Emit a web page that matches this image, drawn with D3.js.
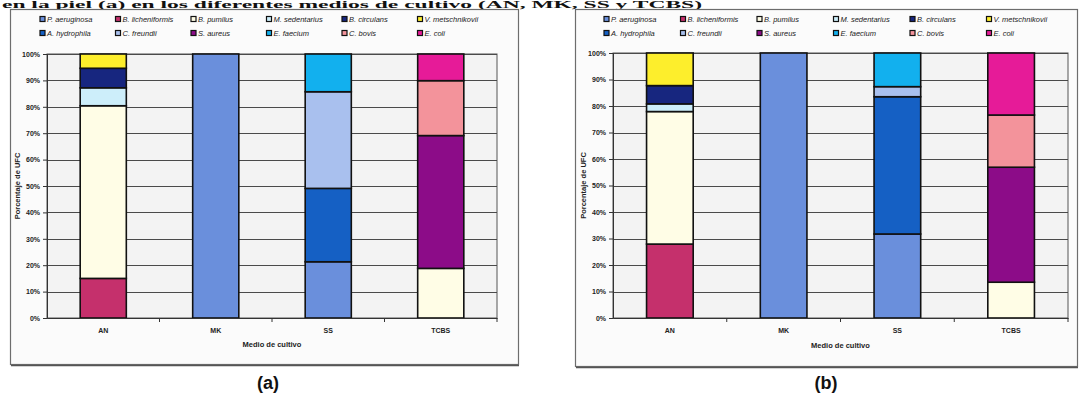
<!DOCTYPE html>
<html>
<head>
<meta charset="utf-8">
<script src="https://cdn.jsdelivr.net/npm/d3@7"></script>
<style>
  html, body { margin: 0; padding: 0; background: #ffffff; }
  svg { display: block; }
  .tick text { font-family: "Liberation Sans", Arial, sans-serif; font-weight: bold; }
</style>
</head>
<body>
<svg id="fig" width="1086" height="396"></svg>
<script>
// Culture media (categories)
const media = ["AN", "MK", "SS", "TCBS"];

// Species, in series (stacking) order
const species = [
  "P. aeruginosa", "B. licheniformis", "B. pumilus", "M. sedentarius",
  "B. circulans", "V. metschnikovii", "A. hydrophila", "C. freundii",
  "S. aureus", "E. faecium", "C. bovis", "E. coli"
];

// Fill colour for each species
const speciesColors = [
  "#6a8fdc", "#c5306c", "#fffde6", "#cdeefa",
  "#17267f", "#fdee2c", "#1560c4", "#a9c0ee",
  "#8c0c88", "#12b0ee", "#f3939b", "#e61b98"
];

// Percentage of CFU per medium (AN, MK, SS, TCBS) — panel (a)
const pAeruginosaA    = [0, 100, 21.3, 0];
const bLicheniformisA = [15.0, 0, 0, 0];
const bPumilusA       = [65.4, 0, 0, 18.8];
const mSedentariusA   = [6.8, 0, 0, 0];
const bCirculansA     = [7.4, 0, 0, 0];
const vMetschnikoviiA = [5.4, 0, 0, 0];
const aHydrophilaA    = [0, 0, 27.8, 0];
const cFreundiiA      = [0, 0, 36.6, 0];
const sAureusA        = [0, 0, 0, 50.3];
const eFaeciumA       = [0, 0, 14.3, 0];
const cBovisA         = [0, 0, 0, 20.8];
const eColiA          = [0, 0, 0, 10.1];

// Percentage of CFU per medium (AN, MK, SS, TCBS) — panel (b)
const pAeruginosaB    = [0, 100, 31.7, 0];
const bLicheniformisB = [27.9, 0, 0, 0];
const bPumilusB       = [50.0, 0, 0, 13.5];
const mSedentariusB   = [2.9, 0, 0, 0];
const bCirculansB     = [6.9, 0, 0, 0];
const vMetschnikoviiB = [12.3, 0, 0, 0];
const aHydrophilaB    = [0, 0, 51.8, 0];
const cFreundiiB      = [0, 0, 3.8, 0];
const sAureusB        = [0, 0, 0, 43.4];
const eFaeciumB       = [0, 0, 12.7, 0];
const cBovisB         = [0, 0, 0, 19.7];
const eColiB          = [0, 0, 0, 23.4];

const seriesA = [pAeruginosaA, bLicheniformisA, bPumilusA, mSedentariusA, bCirculansA,
  vMetschnikoviiA, aHydrophilaA, cFreundiiA, sAureusA, eFaeciumA, cBovisA, eColiA];
const seriesB = [pAeruginosaB, bLicheniformisB, bPumilusB, mSedentariusB, bCirculansB,
  vMetschnikoviiB, aHydrophilaB, cFreundiiB, sAureusB, eFaeciumB, cBovisB, eColiB];

// Y-axis ticks
const yTicks = [0, 0.1, 0.2, 0.3, 0.4, 0.5, 0.6, 0.7, 0.8, 0.9, 1.0];

const yTitle = "Porcentaje de UFC";
const xTitle = "Medio de cultivo";
const heading = "en la piel (a) en los diferentes medios de cultivo (AN, MK, SS y TCBS)";

const svg = d3.select("#fig");
const color = d3.scaleOrdinal().domain(species).range(speciesColors);

// Heading line across the top strip
svg.append("text")
  .attr("x", 2).attr("y", 8)
  .attr("font-family", "Liberation Serif, serif")
  .attr("font-weight", "bold")
  .attr("font-size", 10)
  .attr("textLength", 700)
  .attr("lengthAdjust", "spacingAndGlyphs")
  .attr("fill", "#111")
  .text(heading);

function drawPanel(cfg, series, caption) {
  const g = svg.append("g");

  // Chart frame
  g.append("rect")
    .attr("x", cfg.frame[0] + 0.5).attr("y", cfg.frame[1] + 0.5)
    .attr("width", cfg.frame[2]).attr("height", cfg.frame[3])
    .attr("fill", "#fbfbfb").attr("stroke", "#6d6d6d").attr("stroke-width", 1.2);
  g.append("line")
    .attr("x1", cfg.frame[0] + 1).attr("x2", cfg.frame[0] + cfg.frame[2] + 1)
    .attr("y1", cfg.frame[1] + cfg.frame[3] + 1.5).attr("y2", cfg.frame[1] + cfg.frame[3] + 1.5)
    .attr("stroke", "#555").attr("stroke-width", 1.5);

  const x = d3.scaleBand().domain(media)
    .range([cfg.left, cfg.right])
    .paddingInner(0.59).paddingOuter(0.295);
  const xb = d3.scaleBand().domain(media).range([cfg.left, cfg.right]);
  const y = d3.scaleLinear().domain([0, 1]).range([cfg.bottom, cfg.top]);

  // Plot area
  g.append("rect")
    .attr("x", cfg.left).attr("y", cfg.top)
    .attr("width", cfg.right - cfg.left).attr("height", cfg.bottom - cfg.top)
    .attr("fill", "#f3f3f3").attr("stroke", "#555").attr("stroke-width", 1);

  // Horizontal gridlines
  g.append("g").selectAll("line").data(yTicks.slice(1))
    .join("line")
    .attr("x1", cfg.left).attr("x2", cfg.right)
    .attr("y1", d => Math.round(y(d)) + 0.5).attr("y2", d => Math.round(y(d)) + 0.5)
    .attr("stroke", "#4a4a4a").attr("stroke-width", 1);

  // Stacked 100% columns
  const rows = media.map((m, i) => {
    const r = { medium: m };
    species.forEach((s, k) => { r[s] = series[k][i]; });
    return r;
  });
  const stacked = d3.stack().keys(species).offset(d3.stackOffsetExpand)(rows);

  g.append("g").selectAll("g").data(stacked).join("g")
    .attr("fill", d => color(d.key))
    .selectAll("rect")
    .data(d => d.filter(p => p[1] - p[0] > 0))
    .join("rect")
    .attr("x", p => x(p.data.medium))
    .attr("width", x.bandwidth())
    .attr("y", p => y(p[1]))
    .attr("height", p => y(p[0]) - y(p[1]))
    .attr("stroke", "#111").attr("stroke-width", 1.6);

  // Y axis
  const yAxis = g.append("g")
    .attr("transform", `translate(${cfg.left},0)`)
    .call(d3.axisLeft(y).tickValues(yTicks).tickFormat(d3.format(".0%")).tickSize(4).tickPadding(3));
  yAxis.selectAll("text").attr("font-size", 7).attr("fill", "#222");
  yAxis.selectAll("line, path").attr("stroke", "#333");

  // X axis: labels at category centres, ticks at category boundaries
  const xAxis = g.append("g")
    .attr("transform", `translate(0,${cfg.bottom})`)
    .call(d3.axisBottom(xb).tickSize(0).tickPadding(10));
  xAxis.selectAll("text").attr("font-size", 7).attr("fill", "#222");
  xAxis.select("path").attr("stroke", "#333");
  xAxis.selectAll(".bound").data(media.slice(1).concat(["end"]))
    .join("line").attr("class", "bound")
    .attr("x1", (d, i) => cfg.left + xb.step() * (i + 1))
    .attr("x2", (d, i) => cfg.left + xb.step() * (i + 1))
    .attr("y1", 0).attr("y2", 4)
    .attr("stroke", "#333");

  // Axis titles
  g.append("text")
    .attr("transform", `translate(${cfg.yTitleX},${(cfg.top + cfg.bottom) / 2}) rotate(-90)`)
    .attr("text-anchor", "middle")
    .attr("font-family", "Liberation Sans, Arial, sans-serif")
    .attr("font-weight", "bold").attr("font-size", 7.5).attr("fill", "#222")
    .text(yTitle);
  g.append("text")
    .attr("x", (cfg.left + cfg.right) / 2).attr("y", cfg.xTitleY)
    .attr("text-anchor", "middle")
    .attr("font-family", "Liberation Sans, Arial, sans-serif")
    .attr("font-weight", "bold").attr("font-size", 7.5).attr("fill", "#222")
    .text(xTitle);

  // Legend: two rows of six
  const leg = g.append("g").selectAll("g").data(species).join("g")
    .attr("transform", (d, i) =>
      `translate(${cfg.frame[0] + cfg.legX + (i % 6) * cfg.legStep},${cfg.legY + Math.floor(i / 6) * 14})`);
  leg.append("rect")
    .attr("x", 0).attr("y", -4.5).attr("width", 5).attr("height", 5)
    .attr("fill", d => color(d)).attr("stroke", "#111").attr("stroke-width", 1.2);
  leg.append("text")
    .attr("x", 7).attr("y", 0.5)
    .attr("font-family", "Liberation Sans, Arial, sans-serif")
    .attr("font-style", "italic").attr("font-size", 7.5).attr("fill", "#222")
    .text(d => d);

  // Panel caption
  svg.append("text")
    .attr("x", cfg.captionX).attr("y", 389)
    .attr("text-anchor", "middle")
    .attr("font-family", "Liberation Sans Narrow, Liberation Sans, Arial, sans-serif")
    .attr("font-weight", "bold").attr("font-size", 18).attr("fill", "#111")
    .text(caption);
}

drawPanel({
  frame: [10, 9, 508, 355],
  left: 47, right: 497, top: 54, bottom: 318,
  yTitleX: 20, xTitleY: 347,
  legX: 30, legY: 21, legStep: 75.5,
  captionX: 268
}, seriesA, "(a)");

drawPanel({
  frame: [575, 9, 502, 357],
  left: 613, right: 1068, top: 53, bottom: 318,
  yTitleX: 586, xTitleY: 348,
  legX: 29, legY: 21, legStep: 76.5,
  captionX: 826
}, seriesB, "(b)");
</script>
</body>
</html>
